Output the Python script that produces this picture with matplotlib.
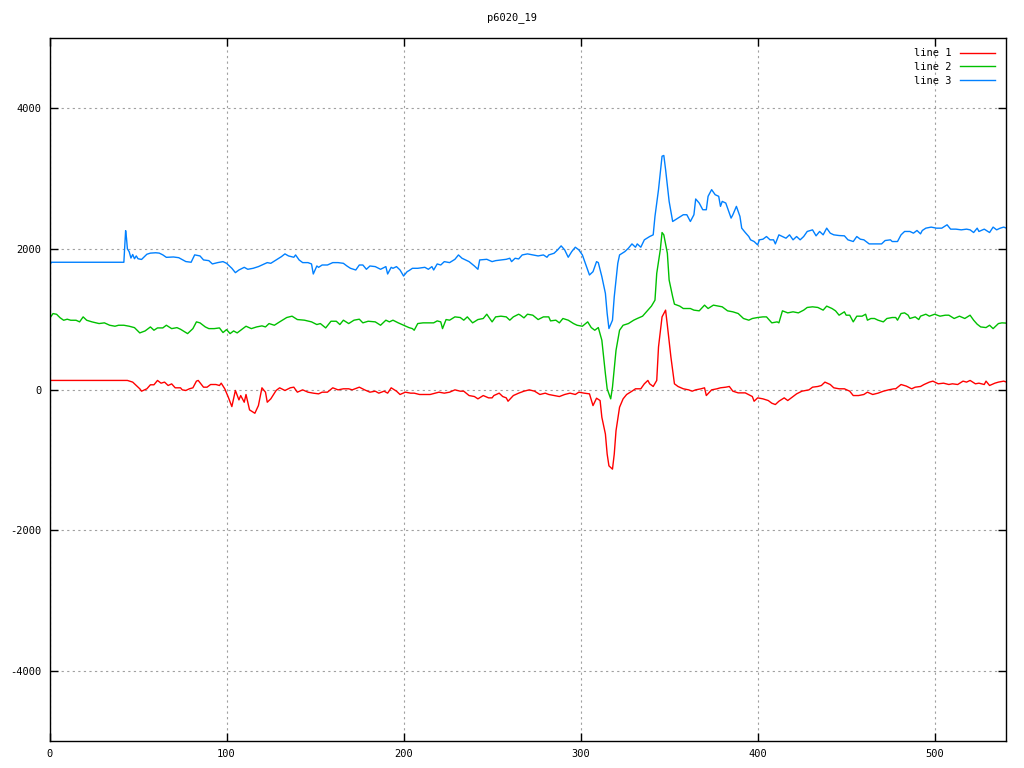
import matplotlib
matplotlib.use("Agg")
import matplotlib.pyplot as plt
from matplotlib.ticker import MultipleLocator

# data (x = sample index)
title = "p6020_19"
labels = ["line 1", "line 2", "line 3"]
colors = ["#ff0000", "#00c000", "#0080ff"]

line1_x = [0, 44, 47, 49, 51, 52, 55, 57, 59, 61, 63, 65, 67, 69, 71, 74, 75, 77, 79, 81,
           83, 84, 87, 89, 91, 94, 96, 97, 99, 101, 103, 105, 107, 108, 110, 111, 113, 116, 118, 120,
           122, 123, 125, 128, 130, 133, 136, 138, 140, 143, 146, 149, 152, 154, 157, 160, 163, 166, 169, 171,
           175, 178, 181, 184, 186, 189, 191, 193, 196, 198, 201, 204, 206, 209, 212, 215, 218, 220, 223, 226,
           229, 232, 234, 237, 240, 242, 245, 248, 250, 251, 254, 256, 258, 259, 262, 265, 268, 271, 274, 277,
           280, 282, 285, 288, 291, 294, 297, 299, 302, 305, 307, 309, 311, 312, 314, 315, 316, 318, 319, 320,
           322, 324, 326, 329, 331, 334, 336, 338, 339, 341, 343, 344, 346, 348, 349, 351, 353, 355, 358, 361,
           363, 365, 368, 370, 371, 374, 377, 379, 382, 384, 386, 389, 393, 396, 397, 398, 400, 403, 406, 408,
           410, 412, 415, 417, 420, 422, 425, 427, 429, 431, 434, 436, 438, 441, 443, 446, 449, 452, 454, 457,
           460, 462, 465, 468, 471, 474, 477, 478, 481, 484, 487, 489, 492, 494, 497, 499, 502, 505, 508, 510,
           513, 516, 518, 520, 523, 525, 528, 529, 531, 534, 536, 539, 540]
line1_y = [129, 129, 105, 57, 10, -24, 10, 67, 67, 129, 90, 105, 57, 80, 24, 24, -5, -14, 10, 24,
           119, 129, 33, 33, 71, 71, 57, 90, 10, -110, -243, -14, -148, -86, -181, -71, -290, -338, -229, 24,
           -38, -181, -133, -14, 24, -14, 24, 33, -38, -5, -38, -52, -62, -38, -38, 24, -5, 10, 10, -5,
           33, -5, -38, -24, -52, -24, -52, 24, -24, -71, -38, -52, -52, -71, -71, -71, -52, -38, -52, -38,
           -5, -24, -24, -86, -100, -133, -86, -119, -119, -86, -52, -100, -119, -167, -86, -52, -24, -5, -24, -71,
           -52, -71, -86, -100, -71, -52, -71, -38, -52, -62, -229, -124, -157, -395, -633, -919, -1086, -1133, -919, -586,
           -252, -133, -71, -24, 10, 10, 81, 129, 81, 43, 129, 605, 1033, 1129, 914, 462, 81, 43, 10, -5,
           -24, -5, 10, 24, -86, -5, 10, 24, 33, 43, -24, -48, -48, -86, -100, -167, -119, -133, -157, -195,
           -214, -167, -119, -157, -100, -62, -24, -14, -5, 33, 43, 57, 105, 71, 24, 10, 10, -24, -86, -86,
           -71, -38, -71, -52, -24, -5, 10, 10, 71, 48, 10, 33, 43, 71, 105, 119, 81, 90, 71, 81,
           71, 119, 105, 129, 81, 90, 71, 119, 57, 90, 105, 119, 110]

line2_x = [0, 2, 4, 6, 8, 10, 12, 15, 17, 19, 21, 24, 28, 31, 34, 37, 39, 42, 45, 48,
           51, 54, 57, 59, 61, 64, 66, 69, 72, 74, 78, 81, 83, 85, 88, 90, 93, 96, 98, 100,
           102, 104, 106, 108, 111, 114, 117, 120, 122, 124, 127, 130, 134, 137, 140, 144, 148, 151, 153, 156,
           159, 162, 164, 166, 169, 172, 175, 177, 180, 184, 187, 190, 192, 194, 197, 200, 203, 205, 206, 208,
           211, 214, 217, 219, 221, 222, 224, 226, 229, 232, 234, 236, 239, 242, 245, 247, 250, 252, 255, 258,
           260, 262, 265, 266, 268, 270, 273, 276, 279, 282, 283, 286, 288, 290, 293, 296, 298, 301, 304, 306,
           308, 310, 312, 314, 315, 317, 318, 320, 322, 324, 327, 330, 332, 335, 338, 340, 342, 343, 345, 346,
           347, 349, 350, 352, 353, 356, 358, 359, 362, 364, 367, 370, 372, 375, 378, 380, 383, 386, 389, 392,
           395, 397, 400, 403, 405, 408, 411, 412, 414, 417, 420, 423, 426, 428, 431, 434, 437, 439, 442, 444,
           446, 449, 450, 452, 454, 456, 459, 461, 462, 464, 466, 468, 471, 473, 476, 478, 479, 481, 483, 485,
           486, 489, 491, 492, 495, 497, 500, 503, 506, 508, 511, 514, 517, 520, 522, 524, 526, 529, 531, 533,
           536, 538, 540]
line2_y = [1010, 1080, 1070, 1020, 985, 1000, 985, 985, 962, 1033, 985, 962, 938, 948, 914, 900, 914, 914, 900, 880,
           805, 833, 890, 843, 876, 876, 914, 866, 880, 857, 795, 866, 962, 948, 890, 866, 866, 876, 810, 852,
           795, 833, 805, 843, 900, 866, 890, 905, 890, 938, 914, 962, 1024, 1043, 995, 986, 962, 924, 938, 876,
           971, 971, 924, 986, 938, 986, 1000, 948, 971, 962, 914, 986, 962, 986, 948, 914, 881, 866, 843, 938,
           948, 948, 948, 976, 962, 866, 995, 986, 1033, 1024, 986, 1033, 948, 995, 1010, 1071, 962, 1033, 1043, 1033,
           986, 1033, 1071, 1057, 1019, 1071, 1057, 995, 1033, 1033, 976, 986, 948, 1010, 986, 938, 914, 900, 962, 881,
           843, 881, 700, 224, 10, -133, 33, 557, 843, 914, 938, 986, 1010, 1043, 1129, 1186, 1271, 1652, 1986, 2233,
           2200, 1938, 1557, 1319, 1214, 1186, 1152, 1152, 1152, 1129, 1119, 1200, 1152, 1200, 1186, 1176, 1119, 1105, 1081, 1010,
           986, 1010, 1024, 1033, 1033, 948, 962, 948, 1119, 1090, 1105, 1090, 1129, 1167, 1176, 1167, 1129, 1186, 1152, 1119,
           1057, 1105, 1057, 1057, 962, 1043, 1043, 1071, 986, 1010, 1010, 986, 962, 1010, 1024, 1024, 986, 1081, 1090, 1057,
           1010, 1033, 995, 1043, 1071, 1043, 1071, 1043, 1057, 1057, 1010, 1043, 1010, 1057, 986, 929, 890, 881, 914, 866,
           938, 948, 945]

line3_x = [0, 1, 42, 43, 43.5, 44, 45, 46, 47, 48, 49, 50, 52, 55, 57, 60, 62, 64, 66, 70,
           73, 77, 80, 82, 85, 87, 90, 92, 95, 98, 100, 103, 105, 107, 110, 112, 115, 118, 120, 123,
           125, 128, 131, 133, 135, 138, 139, 141, 143, 146, 148, 149, 151, 152, 154, 157, 160, 163, 166, 168,
           170, 173, 175, 177, 179, 181, 184, 187, 190, 191, 193, 194, 196, 198, 200, 202, 203, 205, 208, 212,
           214, 216, 217, 219, 221, 223, 226, 229, 231, 233, 237, 240, 242, 243, 247, 250, 252, 255, 258, 260,
           261, 263, 265, 267, 270, 273, 276, 279, 281, 282, 285, 287, 289, 291, 293, 295, 297, 299, 301, 303,
           305, 307, 309, 310, 312, 314, 315, 316, 318, 319, 321, 322, 325, 327, 329, 331, 332, 334, 336, 339,
           341, 342, 344, 346, 347, 348, 350, 352, 355, 358, 360, 361, 362, 364, 365, 367, 369, 371, 372, 374,
           376, 378, 379, 380, 382, 383, 385, 386, 388, 390, 391, 393, 395, 396, 398, 400, 401, 403, 405, 407,
           409, 410, 412, 414, 416, 418, 420, 422, 424, 426, 428, 431, 433, 435, 437, 439, 441, 443, 446, 449,
           451, 454, 456, 458, 460, 463, 467, 470, 472, 475, 476, 479, 481, 483, 486, 488, 490, 492, 493, 495,
           498, 501, 504, 507, 509, 512, 515, 518, 520, 522, 524, 525, 528, 531, 533, 535, 537, 539, 540]
line3_y = [1760, 1810, 1810, 2260, 2150, 2000, 1960, 1870, 1920, 1860, 1900, 1860, 1850, 1924, 1940, 1945, 1940, 1915, 1880, 1885,
           1875, 1820, 1810, 1915, 1900, 1843, 1833, 1786, 1805, 1819, 1795, 1724, 1662, 1700, 1738, 1710, 1724, 1748, 1771, 1805,
           1795, 1843, 1890, 1929, 1900, 1881, 1914, 1843, 1805, 1805, 1786, 1643, 1757, 1738, 1771, 1771, 1805, 1805, 1795, 1757,
           1724, 1700, 1771, 1771, 1710, 1757, 1748, 1710, 1748, 1643, 1738, 1724, 1748, 1700, 1614, 1676, 1690, 1724, 1724, 1738,
           1710, 1748, 1700, 1786, 1771, 1819, 1805, 1852, 1914, 1867, 1819, 1757, 1710, 1843, 1852, 1819, 1833, 1843, 1852, 1867,
           1819, 1867, 1857, 1914, 1929, 1914, 1900, 1914, 1881, 1914, 1938, 1986, 2043, 1986, 1881, 1962, 2024, 1986, 1914, 1771,
           1629, 1676, 1819, 1805, 1605, 1367, 1081, 867, 986, 1319, 1795, 1914, 1962, 2010, 2071, 2024, 2071, 2024, 2129, 2176,
           2200, 2462, 2843, 3319, 3329, 3129, 2676, 2390, 2438, 2486, 2486, 2438, 2390, 2486, 2710, 2652, 2557, 2557, 2748, 2843,
           2771, 2748, 2605, 2676, 2652, 2581, 2438, 2486, 2605, 2462, 2295, 2233, 2176, 2129, 2105, 2057, 2129, 2138, 2176, 2129,
           2129, 2071, 2200, 2176, 2152, 2200, 2129, 2176, 2129, 2176, 2248, 2271, 2186, 2248, 2200, 2295, 2224, 2200, 2190, 2186,
           2129, 2105, 2176, 2138, 2129, 2071, 2071, 2071, 2119, 2129, 2105, 2105, 2200, 2248, 2248, 2224, 2262, 2214, 2262, 2295,
           2310, 2295, 2295, 2343, 2281, 2281, 2271, 2281, 2271, 2233, 2295, 2248, 2281, 2233, 2310, 2271, 2295, 2310, 2300]

plt.rcParams['font.family'] = ['DejaVu Sans Mono']
plt.rcParams['font.size'] = 7.5
plt.rcParams['axes.unicode_minus'] = False

fig = plt.figure(figsize=(10.24, 7.68), dpi=100)
ax = fig.add_axes([49.5 / 1024, 27 / 768, 956 / 1024, 703 / 768])

# gnuplot draws line 1 first, line 3 last
series = [(line1_x, line1_y), (line2_x, line2_y), (line3_x, line3_y)]
for (xs, ys), lab, col in zip(series, labels, colors):
    ax.plot(xs, ys, color=col, lw=1.0, label=lab)

ax.set_xlim(0, 540)
ax.set_ylim(-5000, 5000)
ax.xaxis.set_major_locator(MultipleLocator(100))
ax.set_yticks([-4000, -2000, 0, 2000, 4000])

ax.grid(True, color="#a0a0a0", linestyle=(0, (2, 3)), lw=0.8)
ax.tick_params(direction="in", length=6, width=1, top=True, right=True, pad=6)
for s in ax.spines.values():
    s.set_linewidth(1.0)

fig.text(0.5, 1 - 18 / 768, title, ha="center", va="center")

ax.legend(loc="upper right", bbox_to_anchor=(1.0, 1.0), frameon=False, markerfirst=False,
          handlelength=3.4, labelspacing=0.35, borderaxespad=0.6, handletextpad=0.8)

fig.savefig("out.png", dpi=100)
